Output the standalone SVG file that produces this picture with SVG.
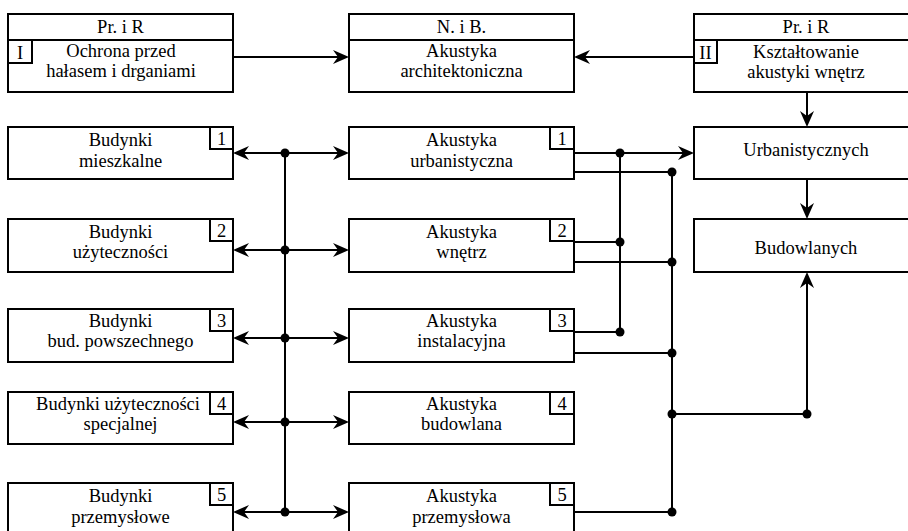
<svg xmlns="http://www.w3.org/2000/svg" width="908" height="531" viewBox="0 0 908 531">
<style>
.box{fill:#fff;stroke:#000;stroke-width:2}
.t{font-family:"Liberation Serif","Times New Roman",serif;font-size:18.5px;text-anchor:middle;fill:#000}
.c{stroke:#000;stroke-width:2;fill:none}
.a{marker-end:url(#ah)}
.b{marker-start:url(#ah);marker-end:url(#ah)}
.dot{fill:#000}
</style>
<defs>
<marker id="ah" viewBox="0 0 16 14" refX="5" refY="7" markerWidth="16" markerHeight="14" markerUnits="userSpaceOnUse" orient="auto-start-reverse">
<path d="M0,0 L16,7 L0,14 L5,7 Z" fill="#000"/>
</marker>
</defs>
<rect width="908" height="531" fill="#fff"/>

<g id="topL">
<rect class="box" x="8" y="14" width="225" height="78"/>
<line class="c" x1="8" y1="40" x2="233" y2="40"/>
<rect class="box" x="8" y="40" width="24" height="23"/>
<text class="t" x="120.5" y="33">Pr. i R</text>
<text class="t" x="20" y="59">I</text>
<text class="t" x="121" y="57">Ochrona przed</text>
<text class="t" x="121" y="77">hałasem i drganiami</text>
</g>
<g id="topM">
<rect class="box" x="349" y="14" width="225" height="78"/>
<line class="c" x1="349" y1="40" x2="574" y2="40"/>
<text class="t" x="461.5" y="33">N. i B.</text>
<text class="t" x="461.5" y="57">Akustyka</text>
<text class="t" x="461.5" y="77">architektoniczna</text>
</g>
<g id="topR">
<rect class="box" x="694" y="14" width="226" height="78"/>
<line class="c" x1="694" y1="40" x2="920" y2="40"/>
<rect class="box" x="694" y="40" width="23" height="23"/>
<text class="t" x="806" y="33">Pr. i R</text>
<text class="t" x="705.5" y="59">II</text>
<text class="t" x="806" y="58">Kształtowanie</text>
<text class="t" x="806" y="78">akustyki wnętrz</text>
</g>

<g id="L1">
<rect class="box" x="8" y="127" width="225" height="52"/>
<rect class="box" x="210" y="127" width="23" height="22"/>
<text class="t" x="221.5" y="145">1</text>
<text class="t" x="120.5" y="146">Budynki</text>
<text class="t" x="120.5" y="167">mieszkalne</text>
</g>
<g id="L2">
<rect class="box" x="8" y="219" width="225" height="53"/>
<rect class="box" x="210" y="219" width="23" height="22"/>
<text class="t" x="221.5" y="237">2</text>
<text class="t" x="120.5" y="238">Budynki</text>
<text class="t" x="120.5" y="258">użyteczności</text>
</g>
<g id="L3">
<rect class="box" x="8" y="309" width="225" height="53"/>
<rect class="box" x="210" y="309" width="23" height="22"/>
<text class="t" x="221.5" y="327">3</text>
<text class="t" x="120.5" y="327">Budynki</text>
<text class="t" x="120.5" y="347">bud. powszechnego</text>
</g>
<g id="L4">
<rect class="box" x="8" y="392" width="225" height="52"/>
<rect class="box" x="210" y="392" width="23" height="22"/>
<text class="t" x="221.5" y="410">4</text>
<text class="t" x="118" y="410">Budynki użyteczności</text>
<text class="t" x="120.5" y="430">specjalnej</text>
</g>
<g id="L5">
<rect class="box" x="8" y="483" width="225" height="52"/>
<rect class="box" x="210" y="483" width="23" height="22"/>
<text class="t" x="221.5" y="501">5</text>
<text class="t" x="120.5" y="502">Budynki</text>
<text class="t" x="120.5" y="523">przemysłowe</text>
</g>

<g id="M1">
<rect class="box" x="349" y="127" width="225" height="52"/>
<rect class="box" x="550" y="127" width="24" height="22"/>
<text class="t" x="562" y="145">1</text>
<text class="t" x="461.5" y="146">Akustyka</text>
<text class="t" x="461.5" y="167">urbanistyczna</text>
</g>
<g id="M2">
<rect class="box" x="349" y="219" width="225" height="53"/>
<rect class="box" x="550" y="219" width="24" height="22"/>
<text class="t" x="562" y="237">2</text>
<text class="t" x="461.5" y="238">Akustyka</text>
<text class="t" x="461.5" y="258">wnętrz</text>
</g>
<g id="M3">
<rect class="box" x="349" y="309" width="225" height="53"/>
<rect class="box" x="550" y="309" width="24" height="22"/>
<text class="t" x="562" y="327">3</text>
<text class="t" x="461.5" y="327">Akustyka</text>
<text class="t" x="461.5" y="347">instalacyjna</text>
</g>
<g id="M4">
<rect class="box" x="349" y="392" width="225" height="52"/>
<rect class="box" x="550" y="392" width="24" height="22"/>
<text class="t" x="562" y="410">4</text>
<text class="t" x="461.5" y="410">Akustyka</text>
<text class="t" x="461.5" y="430">budowlana</text>
</g>
<g id="M5">
<rect class="box" x="349" y="483" width="225" height="52"/>
<rect class="box" x="550" y="483" width="24" height="22"/>
<text class="t" x="562" y="501">5</text>
<text class="t" x="461.5" y="502">Akustyka</text>
<text class="t" x="461.5" y="523">przemysłowa</text>
</g>

<g id="R1">
<rect class="box" x="694" y="127" width="226" height="52"/>
<text class="t" x="806" y="156">Urbanistycznych</text>
</g>
<g id="R2">
<rect class="box" x="694" y="219" width="226" height="53"/>
<text class="t" x="806" y="254">Budowlanych</text>
</g>

<g id="connectors">
<path class="c a" d="M233,57 H338"/>
<path class="c a" d="M694,57 H585"/>
<path class="c a" d="M807,92 V116"/>
<path class="c a" d="M807,179 V208"/>
<path class="c b" d="M244,153 H338"/>
<path class="c b" d="M244,250 H338"/>
<path class="c b" d="M244,338 H338"/>
<path class="c b" d="M244,422 H338"/>
<path class="c b" d="M244,512 H338"/>
<path class="c" d="M285,153 V512"/>
<path class="c a" d="M574,153 H683"/>
<path class="c" d="M574,172 H672 M574,242 H620 M574,262 H672 M574,332 H620 M574,353 H672 M574,512 H672 M620,153 V332 M672,172 V512 M672,414 H807"/>
<path class="c a" d="M807,414 V283"/>
<g class="dot">
<circle cx="285" cy="153" r="4.5"/>
<circle cx="285" cy="250" r="4.5"/>
<circle cx="285" cy="338" r="4.5"/>
<circle cx="285" cy="422" r="4.5"/>
<circle cx="285" cy="512" r="4.5"/>
<circle cx="620" cy="153" r="4.5"/>
<circle cx="620" cy="242" r="4.5"/>
<circle cx="620" cy="332" r="4.5"/>
<circle cx="672" cy="172" r="4.5"/>
<circle cx="672" cy="262" r="4.5"/>
<circle cx="672" cy="353" r="4.5"/>
<circle cx="672" cy="414" r="4.5"/>
<circle cx="672" cy="512" r="4.5"/>
<circle cx="807" cy="414" r="4.5"/>
</g>
</g>
</svg>
